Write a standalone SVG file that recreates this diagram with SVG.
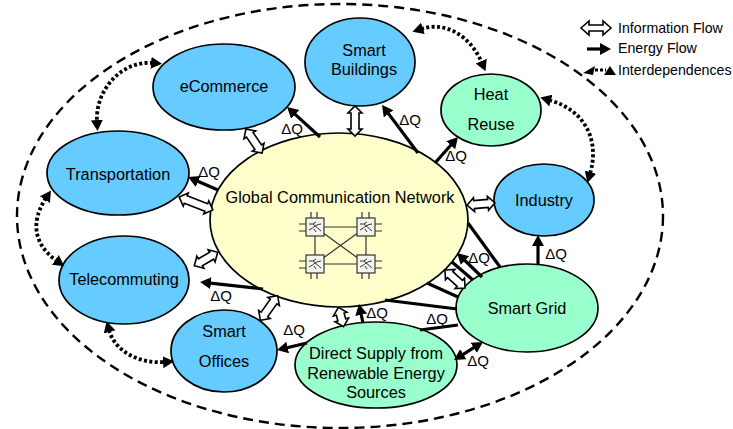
<svg xmlns="http://www.w3.org/2000/svg" xmlns:xlink="http://www.w3.org/1999/xlink" width="733" height="429" viewBox="0 0 733 429">
<style>
text{font-family:"Liberation Sans",Arial,sans-serif;fill:#000}
.t{font-size:16.3px;text-anchor:middle}
.q{font-size:15px;text-anchor:middle}
.l{font-size:14.2px}
.n{stroke:#000;stroke-width:1.7}
.b{fill:#66ccff}.g{fill:#99ffcc}.y{fill:#ffffcc}
.e{fill:none;stroke:#000;stroke-width:3.2;marker-end:url(#eh)}
.p{fill:none;stroke:#000;stroke-width:3.2}
.d{fill:none;stroke:#000;stroke-width:3.8;stroke-dasharray:3 2.4;marker-start:url(#dh);marker-end:url(#dh)}
.h{fill:#fff;stroke:#000;stroke-width:1.6;stroke-linejoin:miter}
.w{fill:none;stroke:#333;stroke-width:1.2}
</style>
<defs>
<marker id="eh" markerUnits="userSpaceOnUse" markerWidth="14" markerHeight="14" refX="3" refY="6" orient="auto-start-reverse"><path d="M0,0 L11,6 L0,12 Z" fill="#000"/></marker>
<marker id="dh" markerUnits="userSpaceOnUse" markerWidth="14" markerHeight="14" refX="2" refY="6" orient="auto-start-reverse"><path d="M0,0 L11,6 L0,12 Z" fill="#000"/></marker>
<g id="sw"><rect x="-9" y="-9" width="18" height="18" fill="#f4f4ee" stroke="#333" stroke-width="1.2"/><path d="M-6,-3 Q-2,-2 1,-5 M-6,3 Q-2,1 0,-1 Q3,-3 6,-3 M-2,-3 L6,4 M-1,2 L1,5" fill="none" stroke="#333" stroke-width="1"/></g>
</defs>
<ellipse id="boundary" cx="340" cy="216" rx="323" ry="212" fill="none" stroke="#000" stroke-width="2.4" stroke-dasharray="10 6"/>
<g id="global"><ellipse class="n y" cx="339" cy="220" rx="129" ry="87"/><text class="t" x="340" y="203">Global Communication Network</text>
<g id="crossbar"><path class="w" d="M315,227H366V264H315ZM315,264L366,227M315,227L366,264"/>
<path class="w" d="M311,218V212M317,218V212M362,218V212M369,218V212M311,273V279M317,273V279M362,273V279M369,273V279M306,224H299M306,231H299M375,224H382M375,231H382M306,261H299M306,268H299M375,261H382M375,268H382"/>
<use xlink:href="#sw" href="#sw" x="315" y="227"/><use xlink:href="#sw" href="#sw" x="366" y="227"/><use xlink:href="#sw" href="#sw" x="315" y="264"/><use xlink:href="#sw" href="#sw" x="366" y="264"/></g></g>
<g id="transportation"><ellipse class="n b" cx="118" cy="173" rx="71" ry="42"/><text class="t" x="118" y="180">Transportation</text></g>
<g id="telecommuting"><ellipse class="n b" cx="124" cy="280" rx="65" ry="44"/><text class="t" x="124" y="285">Telecommuting</text></g>
<g id="ecommerce"><ellipse class="n b" cx="224" cy="87" rx="71" ry="43"/><text class="t" x="224" y="92">eCommerce</text></g>
<g id="buildings"><ellipse class="n b" cx="360" cy="62" rx="55" ry="44"/><text class="t" x="364" y="56">Smart</text><text class="t" x="364" y="75">Buildings</text></g>
<g id="heat"><ellipse class="n g" cx="491" cy="110" rx="50" ry="36"/><text class="t" x="491" y="100">Heat</text><text class="t" x="491" y="130">Reuse</text></g>
<g id="industry"><ellipse class="n b" cx="544" cy="200" rx="50" ry="36"/><text class="t" x="544" y="206">Industry</text></g>
<g id="grid"><ellipse class="n g" cx="527" cy="308" rx="71" ry="44"/><text class="t" x="527" y="314">Smart Grid</text></g>
<g id="direct"><ellipse class="n g" cx="376" cy="365" rx="81" ry="43"/><text class="t" x="376" y="359">Direct Supply from</text><text class="t" x="376" y="379">Renewable Energy</text><text class="t" x="376" y="398">Sources</text></g>
<g id="offices"><ellipse class="n b" cx="224" cy="351" rx="53" ry="41"/><text class="t" x="224" y="337">Smart</text><text class="t" x="224" y="367">Offices</text></g>
<g id="connectors">
<path class="e" d="M320,137L293,112.4"/>
<path class="e" d="M418,153L386.8,111.4"/>
<path class="e" d="M435,163L452.7,143"/>
<path class="e" d="M218,190L195.4,180.2"/>
<path class="e" d="M263,289L208,282.9"/>
<path class="e" d="M307,343L284.8,348.2"/>
<path class="e" d="M538,264V243"/>
<path class="e" d="M482,277L462.8,258.5"/>
<path class="e" d="M363,323L360.6,311.8"/>
<path class="e" style="marker-start:url(#eh)" d="M460.8,355.8L476.2,346.2"/>
<path class="p" d="M468,223L500,267M452,262L473,280M427,283L458,297M385,300L457,309M420,330L458,325"/>
<path class="d" d="M153,63C122,60 95,90 97,122"/>
<path class="d" d="M46,198C30,222 34,245 57,261"/>
<path class="d" d="M109,330C115,352 140,364 165,362"/>
<path class="d" d="M421,29C445,21 470,35 482,63"/>
<path class="d" d="M549,100C585,110 600,140 590,174"/>
<path class="h" transform="translate(254,141) rotate(56)" d="M-14.5,0L-7.5,-7V-4H7.5V-7L14.5,0L7.5,7V4H-7.5V7Z"/>
<path class="h" transform="translate(196,203.5) rotate(21)" d="M-18,0L-11,-7V-4H11V-7L18,0L11,7V4H-11V7Z"/>
<path class="h" transform="translate(206,259) rotate(-30)" d="M-13.5,0L-6.5,-7V-4H6.5V-7L13.5,0L6.5,7V4H-6.5V7Z"/>
<path class="h" transform="translate(269,308) rotate(-55)" d="M-15,0L-8,-7V-4H8V-7L15,0L8,7V4H-8V7Z"/>
<path class="h" transform="translate(341,317) rotate(75)" d="M-10,0L-3,-7V-4H3V-7L10,0L3,7V4H-3V7Z"/>
<path class="h" transform="translate(355,121) rotate(90)" d="M-15,0L-8,-7V-4H8V-7L15,0L8,7V4H-8V7Z"/>
<path class="h" transform="translate(481,204) rotate(-5)" d="M-14,0L-7,-7V-4H7V-7L14,0L7,7V4H-7V7Z"/>
<path class="h" transform="translate(455,279) rotate(42)" d="M-13.5,0L-6.5,-7V-4H6.5V-7L13.5,0L6.5,7V4H-6.5V7Z"/>
</g>
<g id="labels">
<text class="q" x="292" y="134">ΔQ</text><text class="q" x="410" y="125">ΔQ</text><text class="q" x="456" y="161">ΔQ</text>
<text class="q" x="209" y="177">ΔQ</text><text class="q" x="221" y="301">ΔQ</text><text class="q" x="294" y="335">ΔQ</text>
<text class="q" x="556" y="259">ΔQ</text><text class="q" x="479" y="263">ΔQ</text><text class="q" x="377" y="318">ΔQ</text>
<text class="q" x="437" y="324">ΔQ</text><text class="q" x="478" y="366">ΔQ</text>
</g>
<g id="legend">
<path class="h" d="M581,28L589,21V25H603V21L611,28L603,35V31H589V35Z"/>
<path class="e" d="M587,49H603"/>
<path d="M583,73L595,66L593,75Z M604,75H616L610,66Z" fill="#000"/>
<path d="M595,70H606" fill="none" stroke="#000" stroke-width="3" stroke-dasharray="3 2"/>
<text class="l" x="618" y="33">Information Flow</text>
<text class="l" x="618" y="53">Energy Flow</text>
<text class="l" x="618" y="75">Interdependences</text>
</g>
</svg>
